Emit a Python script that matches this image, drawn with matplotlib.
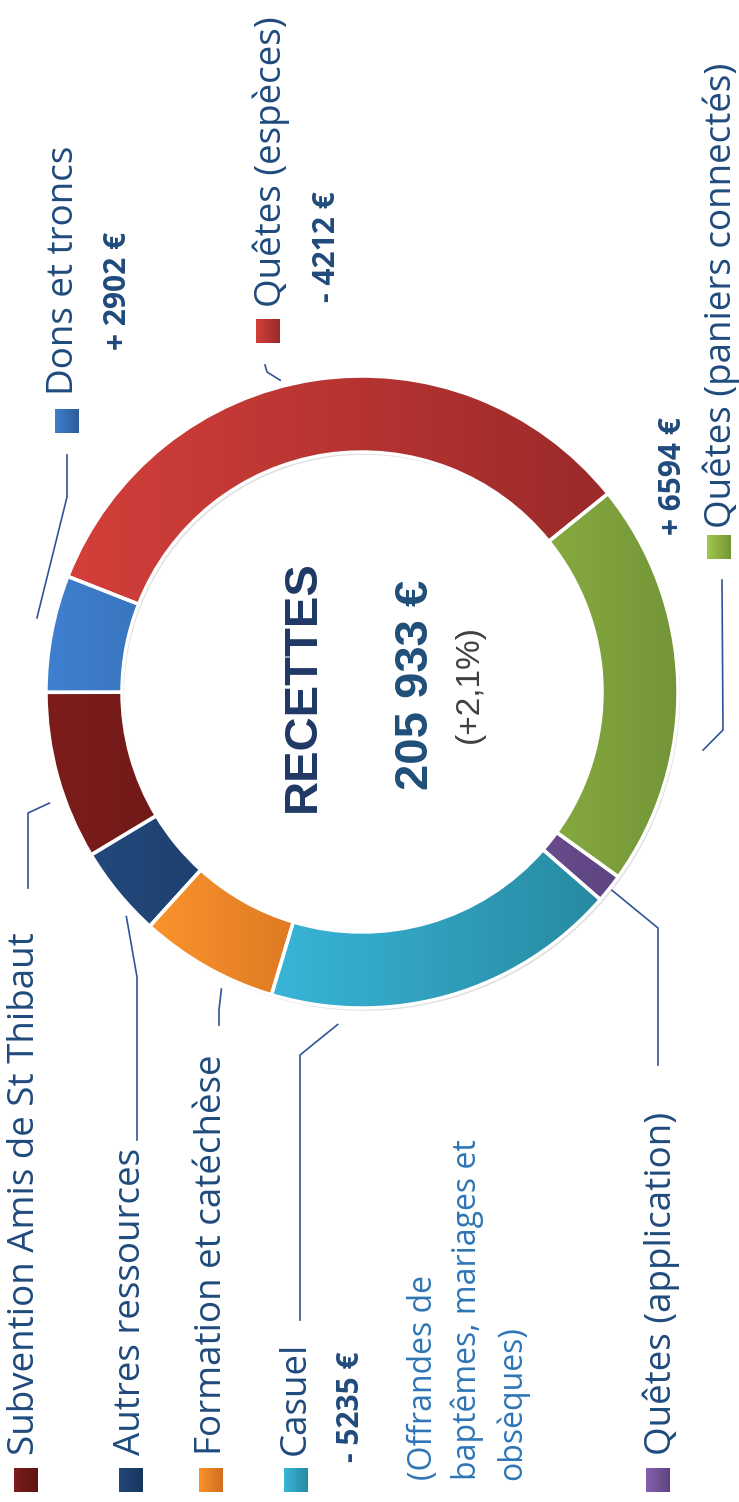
import matplotlib.pyplot as plt
import matplotlib.patches as mpatches
import matplotlib.patheffects as pe
from matplotlib.colors import LinearSegmentedColormap
import numpy as np

W, H = 739, 1502

# Données (recettes, en euros) - ordre de tracé dans l'anneau
categories = ["Quêtes (paniers connectés)", "Quêtes (espèces)", "Dons et troncs",
              "Subvention Amis de St Thibaut", "Autres ressources",
              "Formation et catéchèse", "Casuel", "Quêtes (application)"]
montants = [42700, 68400, 12300, 17700, 9600, 14600, 37500, 3000]
variations = ["+ 6594 €", "- 4212 €", "+ 2902 €", None, None, None, "- 5235 €", None]
titre = "RECETTES"
total_txt = "205 933 €"
evolution_txt = "(+2,1%)"
note_casuel = "(Offrandes de\nbaptêmes, mariages et\nobsèques)"

# couleurs (clair -> foncé) pour le dégradé
couleurs = [("#a2c84b", "#739538"), ("#d43f3a", "#9a2a2a"), ("#3f80cf", "#2e5c98"),
            ("#7d1d1b", "#5c1413"), ("#22497c", "#16355c"), ("#fb932e", "#d06e1d"),
            ("#39b5d8", "#278aa1"), ("#8462ad", "#5d4380")]

TXT = "#1f4a7c"
LIGNE = "#2f5597"


def img(x, y):
    # coordonnées "pixel image" (y vers le bas) -> coordonnées des axes
    return x, H - y


def degrade(ax, patch, c1, c2, z):
    pts = patch.get_patch_transform().transform(patch.get_path().vertices)
    x0, y0 = pts.min(axis=0)
    x1, y1 = pts.max(axis=0)
    cmap = LinearSegmentedColormap.from_list("g", [c1, c2])
    grad = np.linspace(0, 1, 256).reshape(1, -1)
    im = ax.imshow(grad, cmap=cmap, extent=[x0, x1, y0, y1], aspect="auto",
                   interpolation="bilinear", zorder=z)
    im.set_clip_path(patch)


fig = plt.figure(figsize=(W / 100, H / 100), dpi=100)
ax = fig.add_axes([0, 0, 1, 1])

cx, cy = img(362, 692)
R = 316
wedges, _ = ax.pie(montants, startangle=324.2, counterclock=True, radius=R,
                   center=(cx, cy), colors=[c[0] for c in couleurs],
                   wedgeprops=dict(width=76, linewidth=0))

for w, (c1, c2) in zip(wedges, couleurs):
    w.set_zorder(2)
    w.set_path_effects([pe.SimplePatchShadow(offset=(1.5, -2), shadow_rgbFace="#000000", alpha=0.12),
                        pe.Normal()])
    degrade(ax, w, c1, c2, 3)
    ax.add_patch(mpatches.Wedge(w.center, w.r, w.theta1, w.theta2, width=w.width,
                                fc="none", ec="white", lw=2.5, zorder=4))

# mise en page des étiquettes (pixels image)
# carré, texte (x centre, bas), variation (x, bas), trait de rappel (fraction, rayon, coudes)
layout = [
    dict(sq=(719, 547), tx=(721, 528), var=(673, 535), lead=(0.35, 1.095, [(723, 730), (722, 580)])),
    dict(sq=(268, 331), tx=(271, 307), var=(327, 302), lead=(0.55, 1.02, [(267, 372), (265, 365)])),
    dict(sq=(67, 421), tx=(64, 395), var=(118, 350), lead=(0.40, 1.055, [(67, 497), (67, 455)])),
    dict(sq=(26, 1480), tx=(25, 1455), var=None, lead=(0.63, 1.05, [(28, 813), (28, 888)])),
    dict(sq=(131, 1480), tx=(131, 1455), var=None, lead=(0.75, 1.03, [(137, 977), (137, 1140)])),
    dict(sq=(211, 1480), tx=(212, 1455), var=None, lead=(0.66, 1.04, [(219, 1010), (219, 1025)])),
    dict(sq=(296, 1480), tx=(296, 1455), var=(351, 1462), lead=(0.19, 1.055, [(300, 1055), (300, 1320)])),
    dict(sq=(658, 1480), tx=(661, 1455), var=None, lead=(0.5, 1.01, [(658, 928), (658, 1065)])),
]

for w, nom, var, lay, (c1, c2) in zip(wedges, categories, variations, layout, couleurs):
    sx, sy = img(*lay["sq"])
    sq = mpatches.Rectangle((sx - 12, sy - 12), 24, 24, fc=c1, lw=0, zorder=2)
    ax.add_patch(sq)
    degrade(ax, sq, c1, c2, 3)
    ax.text(*img(*lay["tx"]), nom, rotation=90, ha="center", va="bottom",
            fontsize=26.5, family="Open Sans", color=TXT, zorder=5)
    if var:
        ax.text(*img(*lay["var"]), var, rotation=90, ha="center", va="bottom",
                fontsize=21.5, family="Open Sans", weight="bold", color=TXT, zorder=5)
    frac, rf, coudes = lay["lead"]
    a = np.radians(w.theta1 + frac * (w.theta2 - w.theta1))
    xs = [cx + rf * R * np.cos(a)] + [img(*p)[0] for p in coudes]
    ys = [cy + rf * R * np.sin(a)] + [img(*p)[1] for p in coudes]
    ax.plot(xs, ys, color=LIGNE, lw=1.2, zorder=5)

ax.text(*img(468, 1480), note_casuel, rotation=90, ha="center", va="bottom",
        multialignment="left", linespacing=1.45, fontsize=23, family="Open Sans",
        color="#2e75b6", zorder=5)

# texte central
ax.text(*img(303, 686), titre, rotation=90, ha="center", va="center", fontsize=34,
        family="Liberation Sans", weight="bold", color="#1f3864", zorder=5)
ax.text(*img(416, 685), total_txt, rotation=90, ha="center", va="center", fontsize=34,
        family="Liberation Sans", weight="bold", color="#1f4e79", zorder=5)
ax.text(*img(469, 684), evolution_txt, rotation=90, ha="center", va="center", fontsize=24,
        family="Liberation Sans", color="#404040", zorder=5)

ax.set_xlim(0, W)
ax.set_ylim(0, H)
ax.set_aspect("auto")
ax.axis("off")

fig.savefig("out.png", dpi=100)
